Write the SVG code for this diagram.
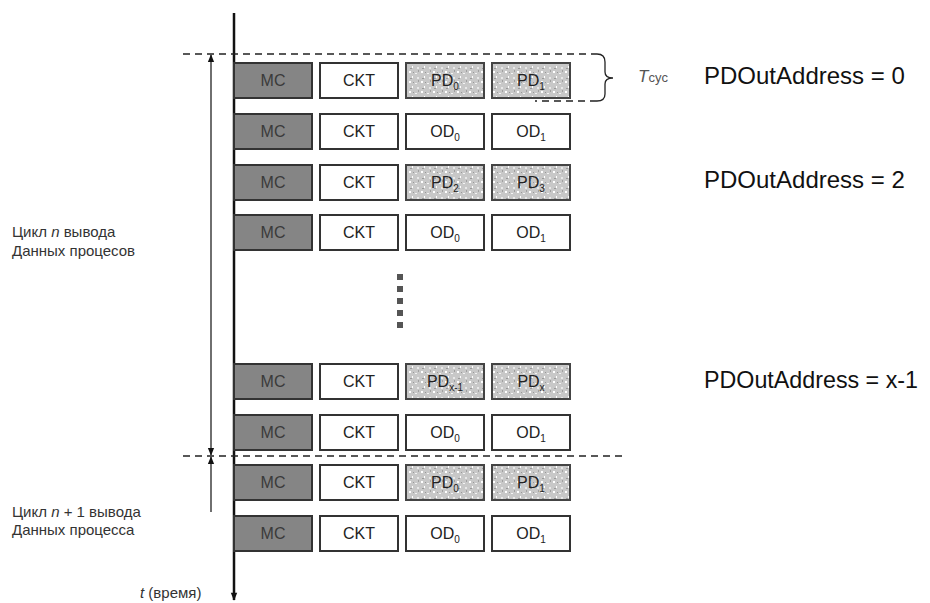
<svg xmlns="http://www.w3.org/2000/svg" width="930" height="603" viewBox="0 0 930 603">
<style>
text{font-family:"Liberation Sans",Arial,sans-serif;}
.mc{fill:#858585;stroke:#333;stroke-width:2;}
.wb{fill:#fff;stroke:#333;stroke-width:2;}
.pd{fill:url(#speck);stroke:#444;stroke-width:2;}
.bl{font-size:16px;fill:#222;text-anchor:middle;}
.mcl{font-size:16px;fill:#3a3a3a;text-anchor:middle;}
.sub{font-size:10px;}
.big{font-size:24px;fill:#111;}
.lbl{font-size:15px;fill:#333;}
.dash{fill:none;stroke:#222;stroke-width:1.6;stroke-dasharray:7,5;}
.thin{fill:none;stroke:#222;stroke-width:1.3;}
</style>
<defs>
<pattern id="speck" width="12" height="10" patternUnits="userSpaceOnUse">
<rect width="12" height="10" fill="#c8c8c8"/>
<rect x="1" y="1" width="2" height="2" fill="#fff"/>
<rect x="7" y="3" width="2" height="1" fill="#f4f4f4"/>
<rect x="4" y="6" width="1" height="2" fill="#fff"/>
<rect x="9" y="7" width="2" height="2" fill="#e8e8e8"/>
<rect x="5" y="2" width="1" height="1" fill="#999"/>
<rect x="10" y="0" width="1" height="2" fill="#a0a0a0"/>
<rect x="2" y="8" width="2" height="1" fill="#9a9a9a"/>
</pattern>
<marker id="ah" viewBox="0 0 10 10" refX="9" refY="5" markerWidth="8" markerHeight="8" orient="auto-start-reverse" markerUnits="userSpaceOnUse">
<path d="M0,1 L10,5 L0,9 z" fill="#111"/>
</marker>
<marker id="ahBig" viewBox="0 0 10 10" refX="9" refY="5" markerWidth="10" markerHeight="8" orient="auto" markerUnits="userSpaceOnUse">
<path d="M0,1 L10,5 L0,9 z" fill="#111"/>
</marker>
</defs>

<g id="connectors">
<line x1="234" y1="13" x2="234" y2="600" stroke="#111" stroke-width="2.5" marker-end="url(#ahBig)"/>
<path class="dash" d="M183,54 H597"/>
<path class="thin" d="M597,54 Q605,54 605,62 V72 Q605,78 613,78 Q605,78 605,84 V94 Q605,101 597,101" stroke-width="1.4"/>
<path class="dash" d="M597,101 H535"/>
<path class="dash" d="M183,456 H626"/>
<line x1="211" y1="55" x2="211" y2="455" class="thin" marker-start="url(#ah)" marker-end="url(#ah)"/>
<line x1="211" y1="457" x2="211" y2="512" class="thin" marker-start="url(#ah)"/>
</g>

<g id="row1">
<rect class="mc" x="234" y="63" width="78" height="35"/><text class="mcl" x="273" y="86">MC</text>
<rect class="wb" x="320" y="63" width="78" height="35"/><text class="bl" x="359" y="86">CKT</text>
<rect class="pd" x="406" y="63" width="78" height="35"/><text class="bl" x="445" y="86">PD<tspan class="sub" dy="4">0</tspan></text>
<rect class="pd" x="492" y="63" width="78" height="35"/><text class="bl" x="531" y="86">PD<tspan class="sub" dy="4">1</tspan></text>
</g>
<g id="row2">
<rect class="mc" x="234" y="114" width="78" height="35"/><text class="mcl" x="273" y="137">MC</text>
<rect class="wb" x="320" y="114" width="78" height="35"/><text class="bl" x="359" y="137">CKT</text>
<rect class="wb" x="406" y="114" width="78" height="35"/><text class="bl" x="445" y="137">OD<tspan class="sub" dy="4">0</tspan></text>
<rect class="wb" x="492" y="114" width="78" height="35"/><text class="bl" x="531" y="137">OD<tspan class="sub" dy="4">1</tspan></text>
</g>
<g id="row3">
<rect class="mc" x="234" y="165" width="78" height="35"/><text class="mcl" x="273" y="188">MC</text>
<rect class="wb" x="320" y="165" width="78" height="35"/><text class="bl" x="359" y="188">CKT</text>
<rect class="pd" x="406" y="165" width="78" height="35"/><text class="bl" x="445" y="188">PD<tspan class="sub" dy="4">2</tspan></text>
<rect class="pd" x="492" y="165" width="78" height="35"/><text class="bl" x="531" y="188">PD<tspan class="sub" dy="4">3</tspan></text>
</g>
<g id="row4">
<rect class="mc" x="234" y="215" width="78" height="35"/><text class="mcl" x="273" y="238">MC</text>
<rect class="wb" x="320" y="215" width="78" height="35"/><text class="bl" x="359" y="238">CKT</text>
<rect class="wb" x="406" y="215" width="78" height="35"/><text class="bl" x="445" y="238">OD<tspan class="sub" dy="4">0</tspan></text>
<rect class="wb" x="492" y="215" width="78" height="35"/><text class="bl" x="531" y="238">OD<tspan class="sub" dy="4">1</tspan></text>
</g>
<g id="ellipsis" fill="#555">
<rect x="397" y="274" width="6" height="6"/>
<rect x="397" y="286" width="6" height="6"/>
<rect x="397" y="298" width="6" height="6"/>
<rect x="397" y="310" width="6" height="6"/>
<rect x="397" y="322" width="6" height="6"/>
</g>
<g id="row5">
<rect class="mc" x="234" y="364" width="78" height="35"/><text class="mcl" x="273" y="387">MC</text>
<rect class="wb" x="320" y="364" width="78" height="35"/><text class="bl" x="359" y="387">CKT</text>
<rect class="pd" x="406" y="364" width="78" height="35"/><text class="bl" x="445" y="387">PD<tspan class="sub" dy="4">x-1</tspan></text>
<rect class="pd" x="492" y="364" width="78" height="35"/><text class="bl" x="531" y="387">PD<tspan class="sub" dy="4">x</tspan></text>
</g>
<g id="row6">
<rect class="mc" x="234" y="415" width="78" height="35"/><text class="mcl" x="273" y="438">MC</text>
<rect class="wb" x="320" y="415" width="78" height="35"/><text class="bl" x="359" y="438">CKT</text>
<rect class="wb" x="406" y="415" width="78" height="35"/><text class="bl" x="445" y="438">OD<tspan class="sub" dy="4">0</tspan></text>
<rect class="wb" x="492" y="415" width="78" height="35"/><text class="bl" x="531" y="438">OD<tspan class="sub" dy="4">1</tspan></text>
</g>
<g id="row7">
<rect class="mc" x="234" y="465" width="78" height="35"/><text class="mcl" x="273" y="488">MC</text>
<rect class="wb" x="320" y="465" width="78" height="35"/><text class="bl" x="359" y="488">CKT</text>
<rect class="pd" x="406" y="465" width="78" height="35"/><text class="bl" x="445" y="488">PD<tspan class="sub" dy="4">0</tspan></text>
<rect class="pd" x="492" y="465" width="78" height="35"/><text class="bl" x="531" y="488">PD<tspan class="sub" dy="4">1</tspan></text>
</g>
<g id="row8">
<rect class="mc" x="234" y="516" width="78" height="35"/><text class="mcl" x="273" y="539">MC</text>
<rect class="wb" x="320" y="516" width="78" height="35"/><text class="bl" x="359" y="539">CKT</text>
<rect class="wb" x="406" y="516" width="78" height="35"/><text class="bl" x="445" y="539">OD<tspan class="sub" dy="4">0</tspan></text>
<rect class="wb" x="492" y="516" width="78" height="35"/><text class="bl" x="531" y="539">OD<tspan class="sub" dy="4">1</tspan></text>
</g>

<g id="labels">
<text x="638" y="82" fill="#555"><tspan font-size="17" font-style="italic">T</tspan><tspan font-size="13">cyc</tspan></text>
<text class="big" x="704" y="84">PDOutAddress = 0</text>
<text class="big" x="704" y="188">PDOutAddress = 2</text>
<text class="big" x="704" y="388" textLength="214" lengthAdjust="spacingAndGlyphs">PDOutAddress = x-1</text>
<text class="lbl" x="12" y="237">Цикл <tspan font-style="italic">n</tspan> вывода</text>
<text class="lbl" x="12" y="256">Данных процесов</text>
<text class="lbl" x="12" y="517">Цикл <tspan font-style="italic">n</tspan> + 1 вывода</text>
<text class="lbl" x="12" y="535">Данных процесса</text>
<text class="lbl" x="140" y="598" font-size="14"><tspan font-style="italic">t</tspan> (время)</text>
</g>
</svg>
